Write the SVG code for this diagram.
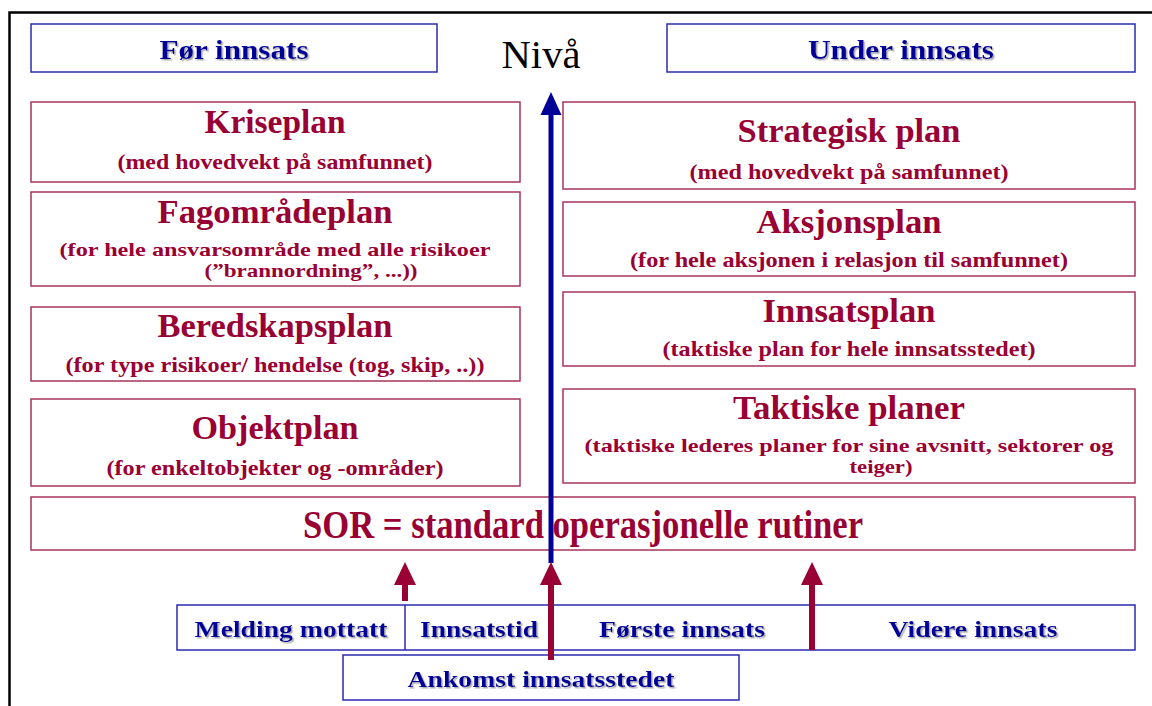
<svg xmlns="http://www.w3.org/2000/svg" width="1152" height="706" viewBox="0 0 1152 706">
<style>
.red{fill:#fff;stroke:#a8355a;stroke-width:1.5}
.blu{fill:#fff;stroke:#2b2bb0;stroke-width:1.5}
.t{font-family:"Liberation Serif","Times New Roman",serif;font-weight:bold;text-anchor:middle;fill:#990033}
.h{font-size:34px}
.s{font-size:21px}
.s2{font-size:19px}
.b{font-family:"Liberation Serif","Times New Roman",serif;font-weight:bold;text-anchor:middle;fill:#000099;filter:url(#sh)}
.hd{font-size:27px}
.lb{font-size:24px}
</style>
<defs>
<filter id="sh" x="-10%" y="-30%" width="120%" height="160%">
<feDropShadow dx="1.5" dy="1.5" stdDeviation="0.6" flood-color="#999" flood-opacity="0.8"/>
</filter>
</defs>
<rect width="1152" height="706" fill="#fff"/>
<path d="M9.5 706V12.5H1152" fill="none" stroke="#000" stroke-width="2.5"/>

<g id="for-innsats"><rect class="blu" x="31" y="24" width="406" height="48"/><text class="b hd" x="234" y="59" textLength="149" lengthAdjust="spacingAndGlyphs">Før innsats</text></g>
<g id="niva"><text x="541" y="68" font-family="Liberation Serif,Times New Roman,serif" font-size="40" text-anchor="middle" fill="#000" textLength="79" lengthAdjust="spacingAndGlyphs">Nivå</text></g>
<g id="under-innsats"><rect class="blu" x="667" y="24" width="468" height="48"/><text class="b hd" x="901" y="59" textLength="186" lengthAdjust="spacingAndGlyphs">Under innsats</text></g>

<g id="kriseplan"><rect class="red" x="31" y="102" width="489" height="80"/><text class="t h" x="275" y="133" textLength="141" lengthAdjust="spacingAndGlyphs">Kriseplan</text><text class="t s" x="275" y="169" textLength="315" lengthAdjust="spacingAndGlyphs">(med hovedvekt på samfunnet)</text></g>
<g id="fagomradeplan"><rect class="red" x="31" y="192" width="489" height="94"/><text class="t h" x="275" y="223" textLength="235" lengthAdjust="spacingAndGlyphs">Fagområdeplan</text><text class="t s2" x="275" y="256" textLength="431" lengthAdjust="spacingAndGlyphs">(for hele ansvarsområde med alle risikoer</text><text class="t s2" x="311" y="277" textLength="213" lengthAdjust="spacingAndGlyphs">(”brannordning”, ...))</text></g>
<g id="beredskapsplan"><rect class="red" x="31" y="307" width="489" height="74"/><text class="t h" x="275" y="337" textLength="235" lengthAdjust="spacingAndGlyphs">Beredskapsplan</text><text class="t s" x="275" y="372" textLength="419" lengthAdjust="spacingAndGlyphs">(for type risikoer/ hendelse (tog, skip, ..))</text></g>
<g id="objektplan"><rect class="red" x="31" y="399" width="489" height="87"/><text class="t h" x="275" y="439" textLength="167" lengthAdjust="spacingAndGlyphs">Objektplan</text><text class="t s" x="275" y="475" textLength="337" lengthAdjust="spacingAndGlyphs">(for enkeltobjekter og -områder)</text></g>

<g id="strategisk-plan"><rect class="red" x="563" y="102" width="572" height="87"/><text class="t h" x="849" y="142" textLength="223" lengthAdjust="spacingAndGlyphs">Strategisk plan</text><text class="t s" x="849" y="179" textLength="319" lengthAdjust="spacingAndGlyphs">(med hovedvekt på samfunnet)</text></g>
<g id="aksjonsplan"><rect class="red" x="563" y="202" width="572" height="74"/><text class="t h" x="849" y="233" textLength="185" lengthAdjust="spacingAndGlyphs">Aksjonsplan</text><text class="t s" x="849" y="267" textLength="438" lengthAdjust="spacingAndGlyphs">(for hele aksjonen i relasjon til samfunnet)</text></g>
<g id="innsatsplan"><rect class="red" x="563" y="292" width="572" height="74"/><text class="t h" x="849" y="322" textLength="173" lengthAdjust="spacingAndGlyphs">Innsatsplan</text><text class="t s" x="849" y="356" textLength="373" lengthAdjust="spacingAndGlyphs">(taktiske plan for hele innsatsstedet)</text></g>
<g id="taktiske-planer"><rect class="red" x="563" y="389" width="572" height="94"/><text class="t h" x="849" y="419" textLength="232" lengthAdjust="spacingAndGlyphs">Taktiske planer</text><text class="t s2" x="849" y="452" textLength="529" lengthAdjust="spacingAndGlyphs">(taktiske lederes planer for sine avsnitt, sektorer og</text><text class="t s2" x="881" y="473" textLength="63" lengthAdjust="spacingAndGlyphs">teiger)</text></g>

<g id="sor"><rect class="red" x="31" y="497" width="1104" height="53"/><text class="t" x="583" y="538" font-size="40" textLength="560" lengthAdjust="spacingAndGlyphs">SOR = standard operasjonelle rutiner</text></g>

<g id="tidslinje">
<rect class="blu" x="177" y="605" width="958" height="45"/>
<path d="M405 605V650M553 605V650M812 605V650" stroke="#2b2bb0" stroke-width="1.5"/>
<text class="b lb" x="291" y="637" textLength="193" lengthAdjust="spacingAndGlyphs">Melding mottatt</text>
<text class="b lb" x="479" y="637" textLength="118" lengthAdjust="spacingAndGlyphs">Innsatstid</text>
<text class="b lb" x="682" y="637" textLength="166" lengthAdjust="spacingAndGlyphs">Første innsats</text>
<text class="b lb" x="973" y="637" textLength="169" lengthAdjust="spacingAndGlyphs">Videre innsats</text>
</g>
<g id="ankomst"><rect class="blu" x="343" y="655" width="396" height="45"/><text class="b lb" x="541" y="687" textLength="267" lengthAdjust="spacingAndGlyphs">Ankomst innsatsstedet</text></g>

<g id="connectors">
<path d="M551 563V112" stroke="#000099" stroke-width="5"/>
<polygon points="551,92 540.5,115 561.5,115" fill="#000099"/>
<path d="M405 601V582M551 660V582M812 650V582" stroke="#990033" stroke-width="6"/>
<polygon points="405,562 394,585 416,585" fill="#990033"/>
<polygon points="551,562 540,585 562,585" fill="#990033"/>
<polygon points="812,562 801,585 823,585" fill="#990033"/>
</g>
</svg>
